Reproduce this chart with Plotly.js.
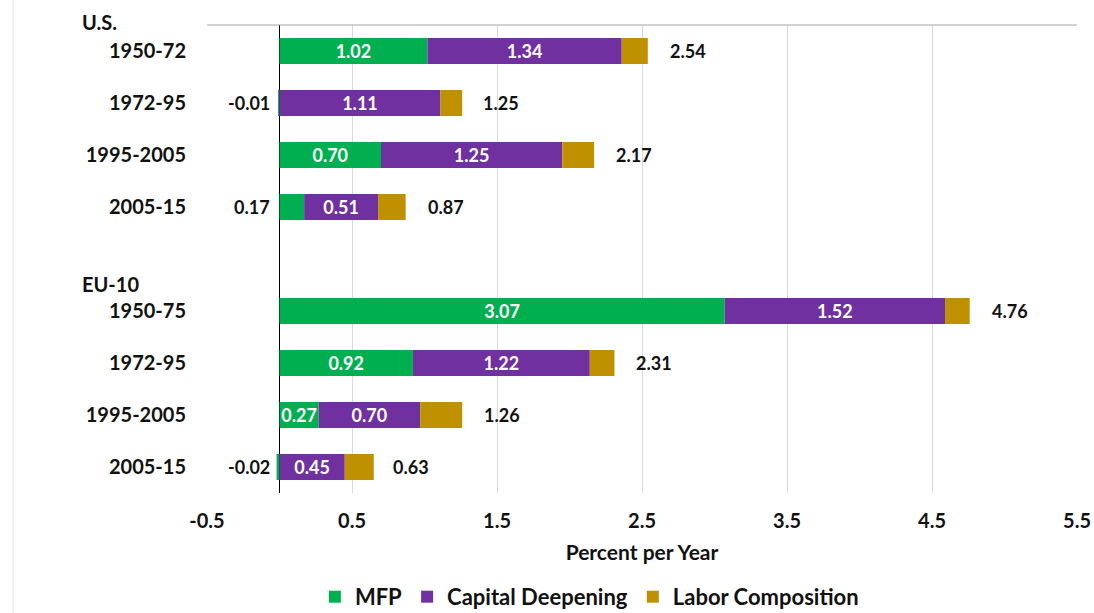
<!DOCTYPE html>
<html>
<head>
<meta charset="utf-8">
<script src="https://cdn.plot.ly/plotly-3.0.1.min.js"></script>
<style>html,body{margin:0;padding:0;background:#fff;}#chart{width:1094px;height:613px;}</style>
</head>
<body>
<div id="chart"></div>
<script>
// ---- data ----
const regions = ['U.S.', 'EU-10'];
const periodsUS = ['1950-72', '1972-95', '1995-2005', '2005-15'];
const periodsEU = ['1950-75', '1972-95', '1995-2005', '2005-15'];
const mfpUS = [1.02, -0.01, 0.70, 0.17];
const capitalUS = [1.34, 1.11, 1.25, 0.51];
const laborUS = [0.18, 0.15, 0.22, 0.19];
const totalUS = [2.54, 1.25, 2.17, 0.87];
const mfpEU = [3.07, 0.92, 0.27, -0.02];
const capitalEU = [1.52, 1.22, 0.70, 0.45];
const laborEU = [0.17, 0.17, 0.29, 0.20];
const totalEU = [4.76, 2.31, 1.26, 0.63];
const xTicks = [-0.5, 0.5, 1.5, 2.5, 3.5, 4.5, 5.5];

// ---- build rows (US rows, one empty gap row, EU rows) ----
const rowsY = [], labels = [], mfp = [], cap = [], lab = [], tot = [];
periodsUS.forEach((p, i) => { rowsY.push(i); labels.push(p); mfp.push(mfpUS[i]); cap.push(capitalUS[i]); lab.push(laborUS[i]); tot.push(totalUS[i]); });
periodsEU.forEach((p, i) => { rowsY.push(periodsUS.length + 1 + i); labels.push(p); mfp.push(mfpEU[i]); cap.push(capitalEU[i]); lab.push(laborEU[i]); tot.push(totalEU[i]); });

const FONT = 'Lato, "Open Sans", sans-serif';
const GREEN = '#00b050', PURPLE = '#7030a0', GOLD = '#bf9000';
const small = v => Math.abs(v) < 0.2;
const bold = (size, color) => ({ family: FONT, size: size, color: color || '#111', weight: 'bold' });

const common = { type: 'bar', orientation: 'h', y: rowsY, width: 0.5, hoverinfo: 'skip',
  textposition: 'inside', insidetextanchor: 'middle', textangle: 0, constraintext: 'none',
  insidetextfont: bold(18, '#ffffff') };

const traces = [
  Object.assign({}, common, { name: 'MFP', x: mfp, marker: { color: GREEN },
    text: mfp.map(v => small(v) ? '' : v.toFixed(2)) }),
  Object.assign({}, common, { name: 'Capital Deepening', x: cap, marker: { color: PURPLE },
    text: cap.map(v => v.toFixed(2)) }),
  Object.assign({}, common, { name: 'Labor Composition', x: lab, marker: { color: GOLD }, text: lab.map(() => '') })
];

const annotations = [];
// totals
tot.forEach((t, i) => annotations.push({ x: t, y: rowsY[i], xref: 'x', yref: 'y', text: t.toFixed(2),
  showarrow: false, xanchor: 'left', xshift: 20, font: bold(18) }));
// small MFP values shown left of the zero line
mfp.forEach((v, i) => { if (small(v)) annotations.push({ x: 0, y: rowsY[i], xref: 'x', yref: 'y', text: v.toFixed(2),
  showarrow: false, xanchor: 'right', xshift: -8, font: bold(18) }); });
// region headers
annotations.push({ xref: 'paper', yref: 'paper', x: -0.146, y: 1.006, xanchor: 'left', yanchor: 'middle', text: regions[0],
  showarrow: false, font: bold(20) });
annotations.push({ xref: 'paper', yref: 'paper', x: -0.146, y: 0.4466, xanchor: 'left', yanchor: 'middle', text: regions[1],
  showarrow: false, font: bold(20) });

const layout = {
  width: 1094, height: 613,
  margin: { l: 207, r: 17, t: 25, b: 120, autoexpand: false },
  paper_bgcolor: '#ffffff', plot_bgcolor: '#ffffff',
  barmode: 'relative', showlegend: true,
  font: { family: FONT, size: 17, color: '#111' },
  xaxis: { range: [-0.5, 5.5], tickvals: xTicks, ticktext: xTicks.map(v => v.toFixed(1)),
    showgrid: true, gridcolor: '#d9d9d9', gridwidth: 1, zeroline: true, zerolinecolor: '#000', zerolinewidth: 1.5,
    showline: false, ticks: '', ticklabelstandoff: 14, automargin: false,
    tickfont: bold(20),
    title: { text: 'Percent per Year', standoff: 14, font: bold(21) } },
  yaxis: { range: [8.5, -0.5], tickvals: rowsY, ticktext: labels, showgrid: false, zeroline: false,
    showline: false, ticks: '', ticklabelstandoff: 20, automargin: false,
    tickfont: bold(20) },
  legend: { orientation: 'h', x: 0.124, xanchor: 'left', y: -0.222, yanchor: 'middle',
    font: bold(22), traceorder: 'normal', itemwidth: 30 },
  annotations: annotations,
  shapes: [
    { type: 'line', xref: 'paper', yref: 'paper', x0: 0, x1: 1, y0: 1, y1: 1, line: { color: '#a6a6a6', width: 1 } },
    { type: 'line', xref: 'paper', yref: 'paper', x0: -0.223, x1: -0.223, y0: -0.26, y1: 1.06, line: { color: '#e3e3e3', width: 1 } }
  ]
};

Plotly.newPlot('chart', traces, layout, { displayModeBar: false, staticPlot: true });
</script>
</body>
</html>
